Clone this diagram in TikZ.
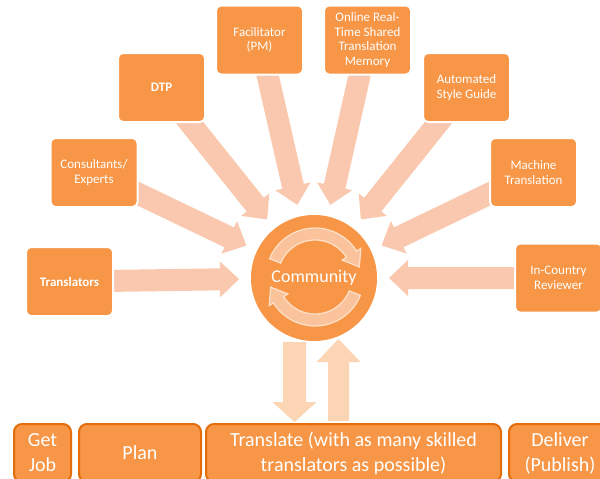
\documentclass[tikz,border=0pt]{standalone}
\usepackage{fontspec}
\setmainfont{Carlito}
\usetikzlibrary{calc}

\definecolor{boxorange}{HTML}{F79646}
\definecolor{boxedge}{HTML}{E46C0A}
\definecolor{spoke}{HTML}{FAC8AE}
\definecolor{flow}{HTML}{FCD5B5}
\definecolor{ringfill}{HTML}{FAC39C}
\definecolor{ringedge}{HTML}{FDE1CB}

\pgfdeclarelayer{back}
\pgfsetlayers{back,main}

% Block arrow: #1 tail, #2 tip, #3 half shaft width, #4 half head width,
% #5 head length, #6 fill style
\newcommand{\blockarrow}[6]{%
  \coordinate (ba-base) at ($(#2)!#5!(#1)$);
  \fill[#6] ($(#1)!#3!90:(#2)$) -- ($(ba-base)!#3!90:(#2)$)
    -- ($(ba-base)!#4!90:(#2)$) -- (#2) -- ($(ba-base)!#4!-90:(#2)$)
    -- ($(ba-base)!#3!-90:(#2)$) -- ($(#1)!#3!-90:(#2)$) -- cycle;}

\begin{document}
\begin{tikzpicture}[x=1pt,y=-1pt,
  src/.style={rectangle, rounded corners=5pt, fill=boxorange, draw=white,
    line width=2pt, minimum width=87pt, minimum height=69pt, inner sep=0pt,
    text=white, align=center, font=\fontsize{13}{14.5}\selectfont},
  hub/.style={circle, fill=boxorange, minimum size=126pt, inner sep=0pt},
  hubtext/.style={text=white, font=\fontsize{18}{20}\selectfont, inner sep=0pt},
  stage/.style={rectangle, rounded corners=8pt, fill=boxorange, draw=boxedge,
    line width=2pt, minimum height=58pt, inner sep=0pt, text=white,
    align=center, font=\fontsize{20}{25}\selectfont},
  ringarrow/.style={fill=ringfill, draw=ringedge, line width=1.2pt}]

\useasboundingbox (0,0) rectangle (600,479);
\clip (0,0) rectangle (600,479);
\begin{pgfonlayer}{back}
  \fill[white] (0,0) rectangle (600,479);
\end{pgfonlayer}

% central hub
\node[hub] (comm) at (314,278) {};

% contributing roles
\node[src] (trans) at (69.5,281.5) {\textbf{Translators}};
\node[src] (cons)  at (94,172.5)   {Consultants/\\Experts};
\node[src] (dtp)   at (161.5,87.5) {\textbf{DTP}};
\node[src] (fac)   at (259.5,40)   {Facilitator\\(PM)};
\node[src] (tm)    at (367.5,40)   {Online Real-\\Time Shared\\Translation\\Memory};
\node[src] (asg)   at (466.5,87.5) {Automated\\Style Guide};
\node[src] (mt)    at (533.5,172.5) {Machine\\Translation};
\node[src] (icr)   at (558.5,278)  {In-Country\\Reviewer};

% spokes into the hub, behind the role boxes
\begin{pgfonlayer}{back}
\foreach \s in {trans,cons,dtp,fac,tm,asg,mt,icr}{
  \coordinate (\s-tip) at ($(comm.center)!75pt!(\s.center)$);
  \blockarrow{\s.center}{\s-tip}{11pt}{18pt}{19pt}{spoke}
}
\end{pgfonlayer}

% cycle arrows inside the hub
\begin{scope}[shift={(315,277)}]
  \foreach \r in {0,180}{
    \begin{scope}[rotate=\r]
      \filldraw[ringarrow] (-158:49) arc[start angle=-158,end angle=-32,radius=49]
        -- (-32:54) -- (-12.8:45.5) -- (-32:32) -- (-32:37)
        arc[start angle=-32,end angle=-158,radius=37] -- cycle;
    \end{scope}
  }
\end{scope}
\node[hubtext] (commlabel) at (comm.center) {Community};

% exchange between hub and translation stage
\coordinate (dn-from) at (294.5,342);
\coordinate (dn-to)   at (294.5,422);
\blockarrow{dn-from}{dn-to}{11.5pt}{22pt}{20pt}{flow}
\coordinate (up-from) at (338.5,421);
\coordinate (up-to)   at (338.5,339);
\blockarrow{up-from}{up-to}{10.5pt}{22pt}{23pt}{flow}

% process stages
\node[stage, minimum width=57pt]  (job)     at (42.5,453)  {Get\\Job};
\node[stage, minimum width=122pt] (plan)    at (140,453)   {Plan};
\node[stage, minimum width=295pt] (transl)  at (353.5,453) {Translate (with as many skilled\\translators as possible)};
\node[stage, minimum width=102pt] (deliver) at (560,453)   {Deliver\\(Publish)};

\end{tikzpicture}
\end{document}
